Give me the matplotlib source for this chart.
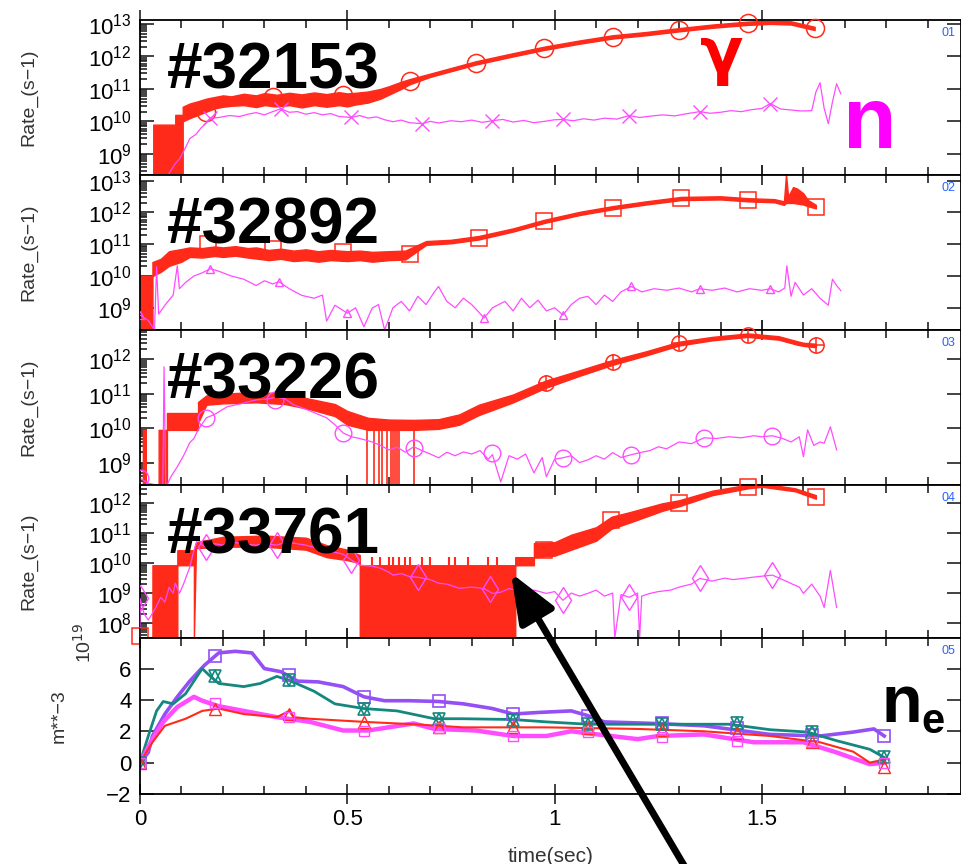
import numpy as np
import matplotlib
matplotlib.use('Agg')
import matplotlib.pyplot as plt
from matplotlib.ticker import LogLocator, MultipleLocator, NullFormatter, FixedLocator

plt.rcParams['font.family'] = ['Liberation Sans', 'DejaVu Sans']

RED = '#ff2a1a'
MAG = '#ff4cff'
PUR = '#9450f5'
TEAL = '#14877f'

shots = ['#32153', '#32892', '#33226', '#33761']

# ---- gamma rate band (log10 of lower / upper envelope), per shot ----
t_g1 = [0.032, 0.085, 0.085, 0.103, 0.103, 0.12, 0.14, 0.16, 0.18, 0.2, 0.22, 0.25, 0.28, 0.3, 0.33,
        0.36, 0.39, 0.42, 0.45, 0.48, 0.5, 0.52, 0.55, 0.58, 0.6, 0.63, 0.65, 0.7, 0.81, 0.9, 0.975, 1.06,
        1.14, 1.22, 1.30, 1.38, 1.466, 1.52, 1.57, 1.6, 1.627]
g1_lo = [8.35, 8.35, 8.35, 8.35, 10.0, 10.1, 10.2, 10.3, 10.4, 10.45, 10.48, 10.5, 10.44, 10.5, 10.46,
         10.5, 10.43, 10.5, 10.45, 10.5, 10.46, 10.52, 10.58, 10.7, 10.82, 11.0, 11.14, 11.37, 11.75, 12.0,
         12.2, 12.39, 12.55, 12.65, 12.77, 12.88, 12.97, 13.0, 12.98, 12.89, 12.81]
g1_hi = [9.9, 9.9, 10.2, 10.2, 10.45, 10.55, 10.62, 10.7, 10.75, 10.8, 10.77, 10.85, 10.8, 10.87, 10.82,
         10.88, 10.83, 10.89, 10.84, 10.9, 10.86, 10.88, 10.92, 11.0, 11.08, 11.22, 11.3, 11.47, 11.85, 12.1,
         12.3, 12.49, 12.65, 12.75, 12.87, 12.98, 13.07, 13.1, 13.08, 12.99, 12.91]
g1_mk_t = [0.16, 0.32, 0.49, 0.65, 0.81, 0.975, 1.14, 1.30, 1.466, 1.627]
g1_mk_v = [10.3, 10.74, 10.82, 11.25, 11.8, 12.26, 12.6, 12.82, 13.03, 12.88]

t_g2 = [0.0, 0.03, 0.03, 0.05, 0.07, 0.1, 0.12, 0.15, 0.18, 0.2, 0.23, 0.26, 0.28, 0.31, 0.34, 0.37, 0.4,
        0.43, 0.46, 0.5, 0.53, 0.56, 0.6, 0.64, 0.69, 0.75, 0.817, 0.9, 0.975, 1.06, 1.14, 1.22, 1.305, 1.4,
        1.466, 1.53, 1.553, 1.558, 1.563, 1.575, 1.585, 1.6, 1.61, 1.63]
g2_lo = [8.3, 8.3, 10.0, 10.13, 10.32, 10.45, 10.6, 10.58, 10.63, 10.6, 10.64, 10.58, 10.55, 10.5, 10.54,
         10.47, 10.5, 10.45, 10.5, 10.47, 10.5, 10.45, 10.5, 10.52, 10.98, 11.03, 11.15, 11.4, 11.67, 11.92,
         12.1, 12.25, 12.39, 12.41, 12.35, 12.32, 12.24, 12.3, 12.3, 12.3, 12.28, 12.25, 12.2, 12.13]
g2_hi = [10.0, 10.0, 10.44, 10.54, 10.78, 10.85, 10.9, 10.88, 10.93, 10.9, 10.94, 10.88, 10.9, 10.82, 10.86,
         10.8, 10.84, 10.78, 10.82, 10.78, 10.8, 10.76, 10.78, 10.8, 11.1, 11.14, 11.26, 11.5, 11.77, 12.02,
         12.2, 12.35, 12.49, 12.51, 12.45, 12.42, 12.35, 13.2, 12.5, 12.8, 12.75, 12.6, 12.4, 12.24]
g2_mk_t = [0.164, 0.32, 0.49, 0.65, 0.817, 0.975, 1.14, 1.305, 1.466, 1.63]
g2_mk_v = [11.0, 10.85, 10.76, 10.69, 11.2, 11.72, 12.15, 12.45, 12.39, 12.18]

t_g3 = [0.007, 0.014, 0.014, 0.045, 0.045, 0.065, 0.065, 0.14, 0.14, 0.16, 0.2, 0.28, 0.35, 0.41, 0.47,
        0.5, 0.55, 0.6, 0.66, 0.72, 0.77, 0.817, 0.9, 0.978, 1.06, 1.14, 1.22, 1.30, 1.38, 1.466, 1.54,
        1.586, 1.6, 1.63]
g3_lo = [8.35, 8.35, 8.35, 8.35, 8.35, 8.35, 9.95, 9.95, 10.15, 10.68, 10.72, 10.75, 10.7, 10.55, 10.35,
         10.1, 9.95, 9.95, 9.95, 9.98, 10.1, 10.38, 10.75, 11.17, 11.52, 11.84, 12.11, 12.4, 12.55, 12.65,
         12.57, 12.42, 12.39, 12.35]
g3_hi = [9.95, 9.95, 8.35, 8.35, 9.95, 9.95, 10.44, 10.44, 10.76, 10.95, 11.0, 11.05, 11.0, 10.85, 10.7,
         10.5, 10.3, 10.25, 10.24, 10.26, 10.4, 10.68, 10.98, 11.38, 11.68, 11.98, 12.23, 12.51, 12.65, 12.75,
         12.67, 12.52, 12.48, 12.45]
g3_drop_t = [0.548, 0.565, 0.577, 0.584, 0.596, 0.605, 0.61, 0.615, 0.62, 0.625, 0.661]
g3_mk_t = [0.978, 1.14, 1.30, 1.466, 1.63]
g3_mk_v = [11.31, 11.92, 12.47, 12.7, 12.41]

t_g4 = [0.03, 0.09, 0.09, 0.13, 0.13, 0.135, 0.2, 0.3, 0.4, 0.45, 0.5, 0.53, 0.53, 0.88, 0.905, 0.905,
        0.95, 0.95, 1.0, 1.04, 1.1, 1.137, 1.18, 1.22, 1.26, 1.30, 1.38, 1.466, 1.5, 1.58, 1.63]
g4_lo = [7.5, 7.5, 9.93, 9.93, 7.5, 10.5, 10.55, 10.55, 10.45, 10.2, 10.1, 10.0, 7.5, 7.5, 7.5, 9.93,
         9.93, 10.2, 10.25, 10.45, 10.75, 11.15, 11.35, 11.55, 11.75, 11.9, 12.27, 12.5, 12.55, 12.4, 12.15]
g4_hi = [9.93, 9.93, 10.43, 10.43, 10.43, 10.7, 10.88, 10.92, 10.85, 10.6, 10.45, 10.27, 9.93, 9.93,
         9.93, 10.2, 10.2, 10.67, 10.7, 10.95, 11.2, 11.55, 11.7, 11.85, 12.0, 12.1, 12.42, 12.62, 12.66,
         12.5, 12.27]
g4_spike_t = [0.56, 0.58, 0.6, 0.61, 0.625, 0.64, 0.65, 0.68, 0.7, 0.745, 0.76, 0.79, 0.84, 0.86]
g4_mk_t = [0.0, 0.65, 0.81, 0.975, 1.137, 1.30, 1.466, 1.63]
g4_mk_v = [7.57, 7.57, 7.57, 10.45, 11.44, 12.0, 12.55, 12.21]

# ---- neutron rate (log10), per shot ----
t_n1 = [0.07, 0.085, 0.096, 0.11, 0.12, 0.135, 0.148, 0.16, 0.168, 0.19, 0.216, 0.24, 0.26, 0.28, 0.30,
        0.32, 0.34, 0.36, 0.38, 0.40, 0.42, 0.44, 0.46, 0.48, 0.51, 0.53, 0.55, 0.57, 0.59, 0.61, 0.63,
        0.65, 0.68, 0.70, 0.72, 0.75, 0.775, 0.80, 0.825, 0.85, 0.875, 0.90, 0.925, 0.95, 0.975, 1.0,
        1.02, 1.045, 1.07, 1.095, 1.12, 1.15, 1.18, 1.205, 1.23, 1.26, 1.29, 1.32, 1.35, 1.375, 1.40,
        1.425, 1.45, 1.475, 1.50, 1.52, 1.545, 1.57, 1.595, 1.62, 1.63, 1.64, 1.65, 1.66, 1.67, 1.68, 1.69]
n1 = [8.4, 8.7, 8.86, 9.2, 9.47, 9.6, 9.81, 9.95, 10.09, 10.12, 10.18, 10.15, 10.22, 10.27, 10.2, 10.3,
      10.39, 10.28, 10.3, 10.22, 10.27, 10.2, 10.24, 10.15, 10.12, 10.18, 10.1, 10.14, 10.05, 9.99, 10.04,
      9.96, 9.93, 10.0, 9.95, 10.02, 9.99, 10.04, 9.97, 10.02, 10.06, 9.98, 10.03, 9.96, 10.0, 10.05,
      10.06, 10.02, 10.08, 10.04, 10.1, 10.07, 10.18, 10.12, 10.16, 10.2, 10.17, 10.24, 10.3, 10.25,
      10.28, 10.33, 10.3, 10.36, 10.4, 10.55, 10.38, 10.35, 10.32, 10.33, 10.9, 11.19, 10.4, 9.93, 10.6,
      11.16, 10.85]
n1_mk_t = [0.17, 0.34, 0.51, 0.68, 0.85, 1.02, 1.18, 1.35, 1.52]
n1_mk_v = [10.1, 10.39, 10.12, 9.93, 10.02, 10.06, 10.18, 10.3, 10.55]

t_n2 = [0.0, 0.02, 0.035, 0.04, 0.045, 0.06, 0.08, 0.09, 0.095, 0.11, 0.13, 0.15, 0.17, 0.19, 0.22, 0.25,
        0.28, 0.3, 0.32, 0.335, 0.36, 0.39, 0.42, 0.44, 0.45, 0.47, 0.5, 0.52, 0.54, 0.56, 0.575, 0.59,
        0.61, 0.63, 0.65, 0.67, 0.69, 0.71, 0.72, 0.74, 0.76, 0.78, 0.8, 0.83, 0.85, 0.88, 0.9, 0.92, 0.94,
        0.96, 0.98, 1.0, 1.02, 1.04, 1.06, 1.08, 1.1, 1.12, 1.14, 1.16, 1.185, 1.21, 1.24, 1.27, 1.3, 1.33,
        1.35, 1.38, 1.41, 1.44, 1.47, 1.5, 1.52, 1.54, 1.555, 1.56, 1.57, 1.58, 1.6, 1.62, 1.64, 1.66,
        1.67, 1.68, 1.69]
n2 = [8.77, 8.6, 8.3, 10.29, 8.8, 9.08, 9.4, 10.32, 9.6, 9.8, 10.0, 10.1, 10.23, 10.15, 10.0, 9.9, 9.7,
      9.85, 9.75, 9.82, 9.6, 9.39, 9.3, 9.4, 8.58, 9.08, 8.83, 9.0, 8.4, 8.99, 9.1, 8.3, 9.0, 9.2, 8.9,
      9.36, 9.1, 9.5, 9.67, 9.2, 9.0, 9.3, 9.1, 8.68, 9.0, 9.2, 8.9, 9.3, 9.0, 9.24, 8.9, 9.0, 8.77, 9.1,
      9.3, 9.36, 9.1, 9.4, 9.2, 9.5, 9.67, 9.5, 9.6, 9.55, 9.62, 9.5, 9.6, 9.55, 9.62, 9.5, 9.6, 9.55,
      9.6, 9.5, 9.62, 10.32, 9.36, 9.8, 9.4, 9.6, 9.3, 9.08, 9.9, 9.7, 9.54]
n2_mk_t = [0.0, 0.17, 0.335, 0.5, 0.83, 1.02, 1.185, 1.35, 1.52]
n2_mk_v = [8.77, 10.23, 9.82, 8.83, 8.68, 8.77, 9.67, 9.6, 9.6]

t_n3 = [0.0, 0.02, 0.04, 0.055, 0.058, 0.062, 0.065, 0.075, 0.09, 0.105, 0.12, 0.13, 0.14, 0.16, 0.18,
        0.21, 0.24, 0.28, 0.31, 0.33, 0.35, 0.37, 0.4, 0.43, 0.45, 0.47, 0.49, 0.51, 0.53, 0.56, 0.58, 0.6,
        0.62, 0.64, 0.66, 0.68, 0.7, 0.72, 0.74, 0.76, 0.78, 0.8, 0.82, 0.84, 0.85, 0.87, 0.89, 0.91, 0.93,
        0.95, 0.97, 0.98, 1.0, 1.02, 1.04, 1.06, 1.08, 1.1, 1.12, 1.14, 1.16, 1.185, 1.21, 1.23, 1.25,
        1.27, 1.3, 1.33, 1.36, 1.39, 1.42, 1.45, 1.48, 1.5, 1.525, 1.55, 1.57, 1.59, 1.6, 1.61, 1.625,
        1.64, 1.65, 1.665, 1.68]
n3 = [8.55, 8.4, 8.35, 8.35, 11.78, 8.35, 8.35, 8.6, 8.88, 9.2, 9.58, 9.7, 9.95, 10.3, 10.4, 10.62, 10.7,
      10.82, 10.85, 10.91, 10.85, 10.68, 10.55, 10.4, 10.3, 10.1, 9.86, 9.75, 9.7, 9.6, 9.5, 9.37, 9.45,
      9.3, 9.46, 9.35, 9.25, 9.14, 9.3, 9.2, 9.31, 9.25, 9.35, 9.1, 9.23, 8.44, 9.2, 9.1, 9.25, 8.7, 9.15,
      8.59, 9.1, 9.14, 9.2, 9.0, 9.08, 9.2, 9.1, 9.29, 9.15, 9.23, 9.3, 9.35, 9.46, 9.4, 9.6, 9.55, 9.72,
      9.7, 9.75, 9.72, 9.78, 9.75, 9.78, 9.7, 9.6, 9.75, 9.17, 9.95, 9.5, 9.6, 9.56, 10.04, 9.37]
n3_mk_t = [0.0, 0.16, 0.325, 0.49, 0.66, 0.85, 1.02, 1.185, 1.36, 1.525]
n3_mk_v = [8.55, 10.3, 10.82, 9.86, 9.43, 9.29, 9.14, 9.23, 9.71, 9.78]

t_n4 = [0.0, 0.0, 0.01, 0.02, 0.037, 0.05, 0.06, 0.07, 0.08, 0.085, 0.095, 0.105, 0.11, 0.12, 0.13, 0.14,
        0.15, 0.16, 0.18, 0.2, 0.22, 0.24, 0.26, 0.28, 0.3, 0.33, 0.35, 0.37, 0.4, 0.42, 0.45, 0.47, 0.49,
        0.51, 0.53, 0.56, 0.58, 0.6, 0.61, 0.63, 0.65, 0.67, 0.7, 0.72, 0.74, 0.77, 0.8, 0.83, 0.85, 0.87,
        0.89, 0.91, 0.93, 0.95, 0.98, 1.0, 1.02, 1.04, 1.06, 1.08, 1.1, 1.12, 1.14, 1.145, 1.16, 1.18,
        1.2, 1.205, 1.21, 1.23, 1.25, 1.28, 1.3, 1.33, 1.35, 1.38, 1.41, 1.43, 1.46, 1.49, 1.525, 1.55,
        1.57, 1.59, 1.6, 1.62, 1.64, 1.65, 1.665, 1.68]
n4 = [7.5, 8.82, 8.3, 8.1, 8.49, 8.86, 8.7, 9.19, 9.0, 9.33, 8.99, 9.3, 9.49, 9.86, 10.43, 10.84, 10.6,
      10.53, 10.65, 10.6, 10.7, 10.67, 10.62, 10.6, 10.65, 10.6, 10.7, 10.67, 10.6, 10.53, 10.45, 10.36,
      10.3, 10.1, 9.93, 9.9, 9.83, 9.7, 9.6, 9.65, 9.55, 9.53, 9.45, 9.33, 9.3, 9.16, 9.2, 9.15, 8.99,
      9.03, 9.15, 9.09, 9.0, 9.1, 8.99, 9.05, 8.76, 9.0, 8.9, 8.99, 9.1, 8.9, 9.0, 7.5, 8.95, 8.86, 9.0,
      7.5, 8.9, 8.99, 9.05, 9.1, 9.2, 9.3, 9.49, 9.4, 9.5, 9.45, 9.5, 9.55, 9.6, 9.45, 9.32, 9.2, 8.99,
      9.3, 8.9, 8.52, 9.76, 8.52]
n4_mk_t = [0.0, 0.16, 0.33, 0.51, 0.67, 0.845, 1.02, 1.18, 1.35, 1.525]
n4_mk_v = [8.82, 10.53, 10.6, 10.1, 9.53, 9.15, 8.76, 8.86, 9.49, 9.6]

ylims = [(8.35, 13.12), (8.3, 13.18), (8.35, 12.85), (7.5, 12.61)]

# ---- electron density (1e19 m^-3) ----
t_pur = [0.0, 0.02, 0.03, 0.06, 0.09, 0.12, 0.155, 0.19, 0.23, 0.27, 0.3, 0.34, 0.38, 0.43, 0.49, 0.54,
         0.59, 0.65, 0.72, 0.78, 0.85, 0.9, 0.96, 1.04, 1.08, 1.12, 1.24, 1.36, 1.52, 1.64, 1.72, 1.77, 1.795]
ne_pur = [0.0, 0.65, 1.7, 3.1, 4.2, 5.2, 6.2, 7.0, 7.1, 7.0, 6.0, 5.8, 5.2, 5.15, 4.85, 4.2, 3.95, 3.95,
          3.9, 3.75, 3.45, 3.1, 3.2, 3.3, 3.0, 2.6, 2.5, 2.35, 1.8, 1.7, 1.95, 2.15, 1.7]
t_teal = [0.0, 0.02, 0.04, 0.056, 0.08, 0.11, 0.15, 0.17, 0.19, 0.25, 0.29, 0.33, 0.36, 0.42, 0.47, 0.54,
          0.62, 0.71, 0.78, 0.9, 0.98, 1.08, 1.25, 1.42, 1.52, 1.61, 1.68, 1.76, 1.795]
ne_teal = [0.0, 1.7, 3.3, 3.9, 3.75, 4.4, 6.0, 5.5, 5.05, 4.85, 5.05, 5.5, 5.25, 4.55, 3.75, 3.45, 3.3,
           2.8, 2.8, 2.75, 2.6, 2.45, 2.45, 2.45, 2.1, 1.95, 1.4, 0.85, 0.33]
t_mag = [0.0, 0.03, 0.056, 0.09, 0.13, 0.15, 0.19, 0.25, 0.33, 0.41, 0.49, 0.55, 0.66, 0.71, 0.81, 0.9,
         0.98, 1.04, 1.2, 1.25, 1.36, 1.48, 1.6, 1.68, 1.76, 1.795]
ne_mag = [0.0, 1.5, 2.6, 3.55, 4.2, 3.95, 3.6, 3.3, 2.9, 2.6, 2.05, 2.05, 2.5, 2.15, 2.05, 1.7, 1.7, 2.0,
          1.5, 1.7, 1.8, 1.3, 1.3, 0.65, -0.1, 0.0]
t_red = [0.0, 0.03, 0.06, 0.11, 0.15, 0.19, 0.25, 0.33, 0.36, 0.37, 0.41, 0.54, 0.66, 0.78, 0.98, 1.2,
         1.36, 1.52, 1.64, 1.72, 1.76, 1.795]
ne_red = [0.0, 1.3, 2.35, 2.8, 3.3, 3.45, 3.1, 2.9, 3.3, 2.9, 2.8, 2.6, 2.45, 2.25, 2.25, 2.15, 2.0, 1.7,
          1.3, 0.7, 0.0, 0.2]
ne_mk_t = [0.0, 0.18, 0.36, 0.54, 0.72, 0.9, 1.08, 1.26, 1.44, 1.62, 1.795]
pur_mk = [0.0, 6.8, 5.6, 4.2, 3.9, 3.1, 3.0, 2.5, 2.2, 1.75, 1.7]
teal_mk = [0.0, 5.5, 5.25, 3.45, 2.8, 2.75, 2.45, 2.45, 2.5, 1.95, 0.33]
red_mk = [0.0, 3.4, 3.1, 2.6, 2.3, 2.25, 2.2, 2.1, 1.9, 1.3, -0.3]
mag_mk = [0.0, 3.8, 2.9, 2.05, 2.2, 1.7, 1.95, 1.65, 1.4, 1.3, 0.0]

W, H = 962, 864
edges = [20, 175, 330, 485, 638, 794]


def rect(top, bot):
    return [140 / W, 1 - bot / H, 821 / W, (bot - top) / H]


fig = plt.figure(figsize=(W / 100, H / 100), dpi=100)
axes = [fig.add_axes(rect(edges[i], edges[i + 1])) for i in range(5)]


def style(ax):
    ax.set_xlim(0, 1.98)
    ax.xaxis.set_major_locator(MultipleLocator(0.5))
    ax.xaxis.set_minor_locator(MultipleLocator(0.1))
    ax.tick_params(which='both', direction='in', top=True, right=True, labelsize=16, width=1.2, color='#222222')
    ax.tick_params(axis='x', which='major', direction='inout', length=14)
    ax.tick_params(axis='x', which='minor', length=6)
    ax.tick_params(axis='y', which='major', length=10, pad=6)
    ax.tick_params(axis='y', which='minor', length=5, right=False)
    for s in ax.spines.values():
        s.set_linewidth(1.3)


bands = [(t_g1, g1_lo, g1_hi), (t_g2, g2_lo, g2_hi), (t_g3, g3_lo, g3_hi), (t_g4, g4_lo, g4_hi)]
neut = [(t_n1, n1), (t_n2, n2), (t_n3, n3), (t_n4, n4)]
g_marks = [(g1_mk_t, g1_mk_v, 'o', 13), (g2_mk_t, g2_mk_v, 's', 11), (g3_mk_t, g3_mk_v, 'o', 11),
           (g4_mk_t, g4_mk_v, 's', 11)]
n_marks = [(n1_mk_t, n1_mk_v, 'x', 10), (n2_mk_t, n2_mk_v, '^', 6), (n3_mk_t, n3_mk_v, 'o', 12),
           (n4_mk_t, n4_mk_v, 'd', 13)]

for i in range(4):
    ax = axes[i]
    ax.set_yscale('log')
    lo_lim, hi_lim = ylims[i]
    t, lo, hi = bands[i]
    ax.fill_between(t, 10 ** np.array(lo), 10 ** np.array(hi), color=RED, lw=1.0, edgecolor=RED, zorder=2)
    tn, nv = neut[i]
    ax.plot(tn, 10 ** np.array(nv), color=MAG, lw=0.9, zorder=4)
    mt, mv, m, ms = g_marks[i]
    ax.plot(mt, 10 ** np.array(mv), ls='none', marker=m, ms=ms, mfc='none', mec=RED, mew=1.1,
            zorder=3, clip_on=False)
    if i == 2:
        ax.plot(mt, 10 ** np.array(mv), ls='none', marker='+', ms=ms, mec=RED, mew=1.1, zorder=3)
    mt, mv, m, ms = n_marks[i]
    ax.plot(mt, 10 ** np.array(mv), ls='none', marker=m, ms=ms, mfc='none', mec=MAG, mew=1.0, zorder=4)
    ax.set_ylim(10 ** lo_lim, 10 ** hi_lim)
    ax.yaxis.set_major_locator(LogLocator(base=10, numticks=20))
    ax.yaxis.set_minor_locator(LogLocator(base=10, subs=np.arange(2, 10), numticks=20))
    ax.yaxis.set_minor_formatter(NullFormatter())
    style(ax)
    ax.tick_params(axis='x', labelbottom=False)
    ax.set_ylabel('Rate_(s\u22121)', fontsize=14, color='#333333')
    ax.yaxis.set_label_coords(-0.125, 0.5)
    ax.text(0.033, 0.86, shots[i], transform=ax.transAxes, fontsize=46, fontweight='bold',
            va='top', ha='left', zorder=6)
    ax.text(0.993, 0.955, '0%d' % (i + 1), transform=ax.transAxes, fontsize=9, color='#2a62ff',
            ha='right', va='top')

axes[2].vlines(g3_drop_t, 10 ** 8.35, 10 ** 9.95, color=RED, lw=1.2, zorder=2)
axes[3].vlines(g4_spike_t, 10 ** 9.9, 10 ** 10.2, color=RED, lw=1.5, zorder=2)

# electron density panel
ax = axes[4]
ax.plot(t_pur, ne_pur, color=PUR, lw=2.6)
ax.plot(t_teal, ne_teal, color=TEAL, lw=2.0)
ax.plot(t_mag, ne_mag, color=MAG, lw=3.2)
ax.plot(t_red, ne_red, color=RED, lw=1.5)
ax.plot(ne_mk_t, pur_mk, ls='none', marker='s', ms=8, mfc='none', mec=PUR, mew=1.2)
ax.plot(ne_mk_t, teal_mk, ls='none', marker='^', ms=9, mfc='none', mec=TEAL, mew=1.2)
ax.plot(ne_mk_t, teal_mk, ls='none', marker='v', ms=9, mfc='none', mec=TEAL, mew=1.2)
ax.plot(ne_mk_t, red_mk, ls='none', marker='^', ms=8, mfc='none', mec=RED, mew=1.0)
ax.plot(ne_mk_t, mag_mk, ls='none', marker='s', ms=7, mfc='none', mec=MAG, mew=1.0)
ax.set_ylim(-2, 7.95)
ax.yaxis.set_major_locator(FixedLocator([-2, 0, 2, 4, 6]))
style(ax)
ax.tick_params(axis='x', which='major', pad=4)
ax.set_xticks([0, 0.5, 1, 1.5])
ax.set_xticklabels(['0', '0.5', '1', '1.5'])
ax.set_xlabel('time(sec)', fontsize=15, labelpad=12, color='#333333')
ax.set_ylabel('m**\u22123', fontsize=14, color='#333333')
ax.yaxis.set_label_coords(-0.088, 0.5)
ax.text(-0.069, 0.97, '10$^{19}$', transform=ax.transAxes, fontsize=14, rotation=90,
        ha='center', va='center', color='#333333')
ax.text(0.993, 0.955, '05', transform=ax.transAxes, fontsize=9, color='#2a62ff', ha='right', va='top')

# annotations
fig.text(722 / W, 1 - 24 / H, '\u03b3', fontsize=46, fontweight='bold', color='#ff0000',
         ha='center', va='top', family='DejaVu Sans')
fig.text(870 / W, 1 - 148 / H, 'n', fontsize=63, fontweight='bold', color='#ff00ff',
         ha='center', va='baseline')
fig.text(902 / W, 1 - 722 / H, 'n', fontsize=48, fontweight='bold', color='black',
         ha='center', va='baseline')
fig.text(933 / W, 1 - 733 / H, 'e', fontsize=30, fontweight='bold', color='black',
         ha='center', va='baseline')

ax.annotate('', xy=(511, H - 573), xycoords='figure pixels', xytext=(695, -20),
            textcoords='figure pixels', annotation_clip=False,
            arrowprops=dict(arrowstyle='-|>,head_length=1.5,head_width=0.6', mutation_scale=20,
                            lw=5, color='black', shrinkA=0, shrinkB=0))

fig.savefig('out.png', dpi=100)
